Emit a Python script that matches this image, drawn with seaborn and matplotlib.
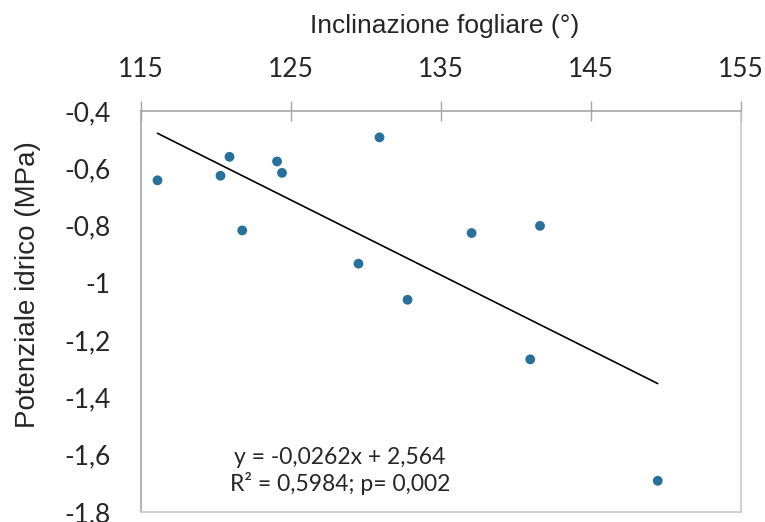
import matplotlib
matplotlib.use("Agg")
import matplotlib.pyplot as plt
import seaborn as sns
import numpy as np
import pandas as pd

# Data
inclinazione = [116.1, 120.3, 120.9, 121.75, 124.07, 124.4, 130.9, 129.5, 132.77, 137.04, 141.6, 140.95, 149.45]
potenziale = [-0.642, -0.626, -0.560, -0.817, -0.576, -0.616, -0.492, -0.933, -1.059, -0.826, -0.801, -1.267, -1.691]
slope = -0.0262
intercept = 2.564
x_ticks = [115, 125, 135, 145, 155]
y_ticks = [-1.8, -1.6, -1.4, -1.2, -1.0, -0.8, -0.6, -0.4]
y_ticklabels = ["-1,8", "-1,6", "-1,4", "-1,2", "-1", "-0,8", "-0,6", "-0,4"]
eq_text = "y = -0,0262x + 2,564\nR\u00b2 = 0,5984; p= 0,002"

sns.set_style("white")
plt.rcParams['font.family'] = ['Liberation Sans', 'DejaVu Sans']

fig = plt.figure(figsize=(7.65, 5.22), dpi=100)
ax = fig.add_axes([141/765, 1 - 512/522, 600/765, 401/522])

df = pd.DataFrame({"x": inclinazione, "y": potenziale})
xl = np.array([min(inclinazione), max(inclinazione)])
trend = pd.DataFrame({"x": xl, "y": slope * xl + intercept})
sns.lineplot(data=trend, x="x", y="y", ax=ax, color="black", linewidth=1.2)
sns.scatterplot(data=df, x="x", y="y", ax=ax, color="#27719a", s=50, edgecolor="none", zorder=3)

ax.set_xlim(115, 155)
ax.set_ylim(-1.8, -0.4)
ax.xaxis.tick_top()
ax.xaxis.set_label_position("top")
ax.set_xticks(x_ticks)
ax.set_xticklabels([str(t) for t in x_ticks], family=['Lato', 'DejaVu Sans'], fontsize=19)
ax.set_yticks(y_ticks)
ax.set_yticklabels(y_ticklabels, family=['Lato', 'DejaVu Sans'], fontsize=19)
ax.tick_params(axis='both', direction='inout', length=14, width=1, color="#a6a6a6")
ax.tick_params(axis='x', pad=14)
ax.tick_params(axis='y', pad=15)
for s in ax.spines.values():
    s.set_color("#c8c8c8")
    s.set_linewidth(1.2)
ax.spines['top'].set_color("#a6a6a6")
ax.spines['left'].set_color("#a6a6a6")

ax.set_xlabel("Inclinazione fogliare (\u00b0)", fontsize=19)
ax.set_ylabel("Potenziale idrico (MPa)", fontsize=20)
ax.xaxis.set_label_coords((445 - 141) / 600, (512 - 26) / 401)
ax.xaxis.label.set_va("center")
ax.yaxis.set_label_coords((28 - 141) / 600, (512 - 285) / 401)
ax.yaxis.label.set_va("center")

ax.text(340, 522 - 471, eq_text, transform=None, ha="center", va="center", fontsize=16.5,
        family=['Lato', 'DejaVu Sans'], linespacing=1.25)

fig.savefig("out.png", dpi=100)
